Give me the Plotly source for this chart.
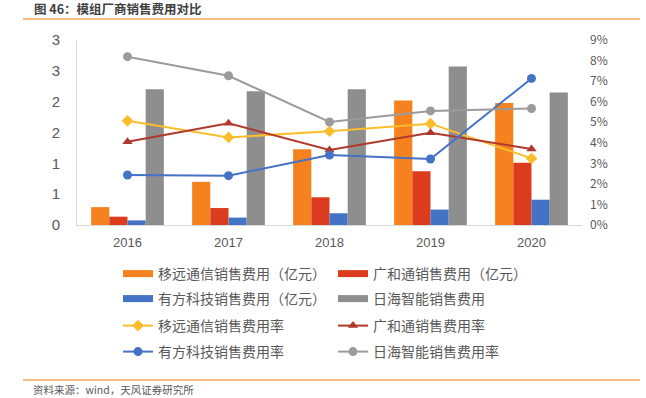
import plotly.graph_objects as go

years = ["2016", "2017", "2018", "2019", "2020"]

# 销售费用（亿元）
yiyuan_fee = [0.29, 0.70, 1.23, 2.02, 1.98]
guanghe_fee = [0.135, 0.275, 0.45, 0.87, 1.01]
youfang_fee = [0.075, 0.12, 0.19, 0.25, 0.41]
rihai_fee = [2.20, 2.17, 2.20, 2.57, 2.15]

# 销售费用率（%）
yiyuan_rate = [5.07, 4.26, 4.56, 4.93, 3.24]
guanghe_rate = [4.05, 4.95, 3.65, 4.49, 3.70]
youfang_rate = [2.43, 2.40, 3.40, 3.21, 7.13]
rihai_rate = [8.19, 7.26, 5.01, 5.55, 5.67]

left_tickvals = [0, 0.5, 1, 1.5, 2, 2.5, 3]
left_ticktext = ["0", "1", "1", "2", "2", "3", "3"]
right_tickvals = [0, 1, 2, 3, 4, 5, 6, 7, 8, 9]
right_ticktext = ["0%", "1%", "2%", "3%", "4%", "5%", "6%", "7%", "8%", "9%"]

bar_names = ["移远通信销售费用（亿元）", "广和通销售费用（亿元）", "有方科技销售费用（亿元）", "日海智能销售费用"]
bar_data = [yiyuan_fee, guanghe_fee, youfang_fee, rihai_fee]
bar_colors = ["#F5821F", "#DC3C1E", "#4472C4", "#8E8E8E"]

line_names = ["移远通信销售费用率", "广和通销售费用率", "有方科技销售费用率", "日海智能销售费用率"]
line_data = [yiyuan_rate, guanghe_rate, youfang_rate, rihai_rate]
line_colors = ["#FBBE2A", "#B0392B", "#4472C4", "#9B9B9B"]
line_symbols = ["diamond", "triangle-up", "circle", "circle"]

FONT = "Noto Sans CJK SC"
NUMFONT = "Liberation Sans"
TXT = "#595959"

fig = go.Figure()

for name, vals, col in zip(bar_names, bar_data, bar_colors):
    fig.add_trace(go.Bar(x=years, y=vals, name=name, marker=dict(color=col, line=dict(width=0)),
                         showlegend=False, yaxis="y"))

for name, vals, col, sym in zip(line_names, line_data, line_colors, line_symbols):
    fig.add_trace(go.Scatter(x=years, y=vals, name=name, mode="lines+markers",
                             line=dict(color=col, width=2),
                             marker=dict(color=col, size=9, symbol=sym),
                             showlegend=False, yaxis="y2"))

# legend entries (one legend per row)
legend_rows = ["legend", "legend2", "legend3", "legend4"]
entries = [
    (bar_names[0], bar_colors[0], "bar", None, "legend"),
    (bar_names[1], bar_colors[1], "bar", None, "legend"),
    (bar_names[2], bar_colors[2], "bar", None, "legend2"),
    (bar_names[3], bar_colors[3], "bar", None, "legend2"),
    (line_names[0], line_colors[0], "line", line_symbols[0], "legend3"),
    (line_names[1], line_colors[1], "line", line_symbols[1], "legend3"),
    (line_names[2], line_colors[2], "line", line_symbols[2], "legend4"),
    (line_names[3], line_colors[3], "line", line_symbols[3], "legend4"),
]
for name, col, kind, sym, lg in entries:
    if kind == "bar":
        fig.add_trace(go.Scatter(x=[None], y=[None], name=name, mode="lines",
                                 line=dict(color=col, width=7), legend=lg, showlegend=True))
    else:
        fig.add_trace(go.Scatter(x=[None], y=[None], name=name, mode="lines+markers",
                                 line=dict(color=col, width=2),
                                 marker=dict(color=col, size=9, symbol=sym), legend=lg, showlegend=True))

L, R, T, B = 77, 64, 40, 173
W, H = 646, 398
pw, ph = W - L - R, H - T - B


def px2x(px):
    return (px - L) / pw


def py2y(py):
    return (H - B - py) / ph


row_y = [274, 299, 326, 352]
leg_common = dict(orientation="h", xanchor="left", yanchor="middle", entrywidth=170,
                  entrywidthmode="pixels", bgcolor="rgba(0,0,0,0)",
                  font=dict(family=FONT, size=14, color=TXT), itemclick=False)
layout_legends = {}
for lg, ry in zip(legend_rows, row_y):
    layout_legends[lg] = dict(x=px2x(118), y=py2y(ry), **leg_common)

fig.update_layout(
    width=W, height=H,
    margin=dict(l=L, r=R, t=T, b=B, autoexpand=False),
    paper_bgcolor="white", plot_bgcolor="white",
    barmode="group", bargap=0.28, bargroupgap=0,
    font=dict(family=FONT, color=TXT),
    xaxis=dict(type="category", showgrid=False, showline=True, linecolor="#D9D9D9", linewidth=1,
               ticks="", ticklabelstandoff=5, tickfont=dict(family=NUMFONT, size=13, color=TXT)),
    yaxis=dict(range=[0, 3], tickvals=left_tickvals, ticktext=left_ticktext, showgrid=False,
               showline=True, linecolor="#D9D9D9", linewidth=1, zeroline=False,
               ticklabelstandoff=13, tickfont=dict(family=NUMFONT, size=15, color=TXT)),
    yaxis2=dict(range=[0, 9], tickvals=right_tickvals, ticktext=right_ticktext, overlaying="y", side="right",
                showgrid=False, showline=False, zeroline=False,
                ticklabelstandoff=7, tickfont=dict(size=12, color=TXT)),
    **layout_legends,
)

fig.add_shape(type="line", xref="paper", yref="paper", x0=px2x(23), x1=px2x(640),
              y0=py2y(19), y1=py2y(19), line=dict(color="#F6A45B", width=1.5))
fig.add_shape(type="line", xref="paper", yref="paper", x0=px2x(23), x1=px2x(640),
              y0=py2y(380), y1=py2y(380), line=dict(color="#F6A45B", width=1.5))

fig.add_annotation(text="<b>图 46：模组厂商销售费用对比</b>", xref="paper", yref="paper",
                   x=px2x(32), y=py2y(8), xanchor="left", yanchor="middle", showarrow=False,
                   font=dict(family=FONT, size=12.5, color="#404040"))
fig.add_annotation(text="资料来源：wind，天风证券研究所", xref="paper", yref="paper",
                   x=px2x(31), y=py2y(389), xanchor="left", yanchor="middle", showarrow=False,
                   font=dict(family=FONT, size=10.5, color=TXT))

fig.write_html("out.html", config={"displayModeBar": False},
               post_script="document.body.style.margin='0';document.body.style.overflow='hidden';")
